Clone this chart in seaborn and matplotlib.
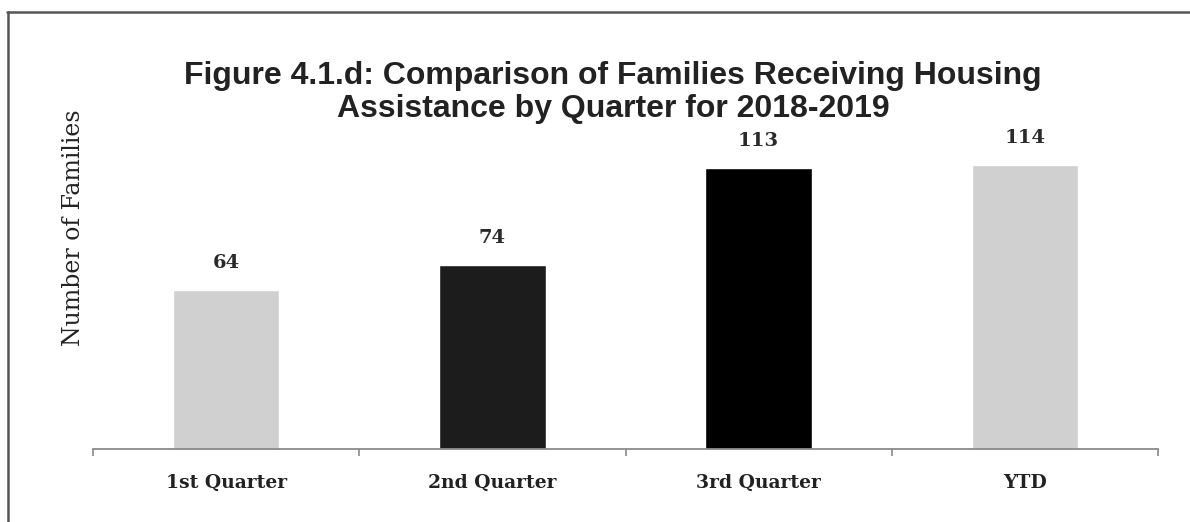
import matplotlib
matplotlib.use("Agg")
import matplotlib.pyplot as plt
from matplotlib.lines import Line2D
import seaborn as sns
import pandas as pd

# Families receiving housing assistance, 2018-2019
quarters = ["1st Quarter", "2nd Quarter", "3rd Quarter", "YTD"]
families = [64, 74, 113, 114]
bar_colors = ["#d0d0d0", "#1c1c1c", "#000000", "#d0d0d0"]

df = pd.DataFrame({"quarter": quarters, "families": families})

sns.set_theme(style="white")
plt.rcParams["font.family"] = ["DejaVu Serif"]

fig = plt.figure(figsize=(11.9, 5.22), dpi=100)
ax = fig.add_axes([93 / 1190, 73 / 522, 1065 / 1190, 348.6 / 522])

sns.barplot(data=df, x="quarter", y="families", hue="quarter",
            palette=bar_colors, dodge=False, width=0.4, legend=False,
            saturation=1, ax=ax)

ax.set_xlim(-0.5, len(quarters) - 0.5)
ax.set_ylim(0, 140)

# value labels above each bar
for i, v in enumerate(families):
    ax.annotate(f"{v}", xy=(i, v), xytext=(0, 27), textcoords="offset pixels",
                ha="center", va="center", fontsize=14, fontweight="bold",
                color="#2a2a2a")

# axes styling: only a grey baseline with separator ticks
for side in ["top", "right", "left"]:
    ax.spines[side].set_visible(False)
ax.spines["bottom"].set_color("#8a8a8a")
ax.spines["bottom"].set_linewidth(1.3)
ax.set_yticks([])
ax.set_xticks(range(len(quarters)))
ax.set_xticklabels(quarters, fontsize=13.5, fontweight="bold", color="#222222")
ax.set_xticks([i - 0.5 for i in range(len(quarters) + 1)], minor=True)
ax.tick_params(axis="x", which="major", length=0, pad=18)
ax.tick_params(axis="x", which="minor", bottom=True, length=5, width=1.2,
               color="#8a8a8a", direction="out")
ax.set_xlabel("")
ax.set_ylabel("")

fig.text(73 / 1190, 1 - 228 / 522, "Number of Families", rotation=90,
         ha="center", va="center", fontsize=17, color="#222222")

fig.text(613 / 1190, 1 - 61 / 522,
         "Figure 4.1.d: Comparison of Families Receiving Housing\n"
         "Assistance by Quarter for 2018-2019",
         ha="center", va="top", fontsize=23, fontweight="bold",
         family=["Liberation Sans"], color="#222222", linespacing=1.12)

# page frame along the top and left edges
fig.add_artist(Line2D([7 / 1190, 1.0], [1 - 12 / 522, 1 - 12 / 522],
                      transform=fig.transFigure, color="#555555", lw=1.8))
fig.add_artist(Line2D([8 / 1190, 8 / 1190], [0.0, 1 - 12 / 522],
                      transform=fig.transFigure, color="#555555", lw=1.8))

fig.savefig("out.png", dpi=100, facecolor="white")
